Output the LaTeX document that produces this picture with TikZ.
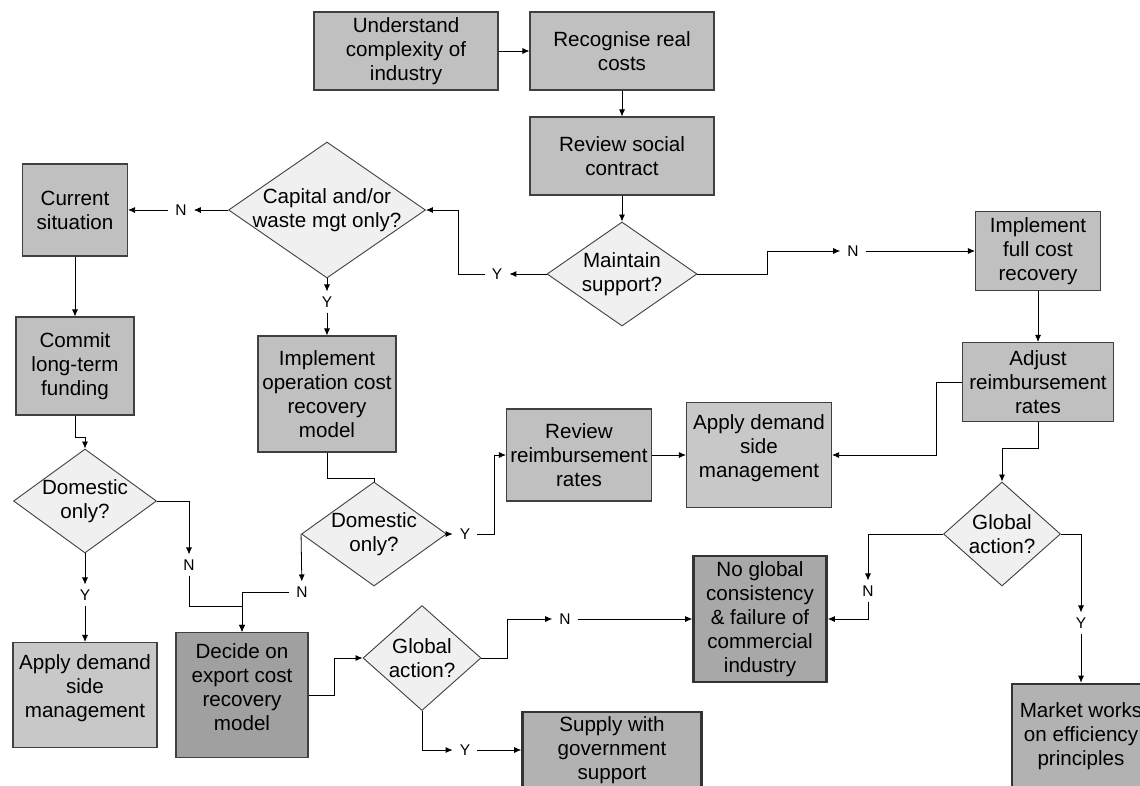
\documentclass[tikz,border=0pt]{standalone}
\usepackage{fontspec}
\setmainfont{Liberation Sans}
\usetikzlibrary{shapes.geometric,arrows.meta}

\definecolor{boxG}{RGB}{192,192,192}
\definecolor{boxH}{RGB}{200,200,200}
\definecolor{boxD}{RGB}{160,160,160}
\definecolor{boxE}{RGB}{168,168,168}
\definecolor{boxM}{RGB}{178,178,178}
\definecolor{rautG}{RGB}{240,240,240}
\definecolor{randG}{RGB}{64,64,64}

\tikzset{	Flow/.style={x=1pt,y=-1pt},
		box/.style={rectangle,draw=randG,line width=1.1pt,fill=boxG,align=center,
				inner sep=0pt,font=\fontsize{20.6}{24}\selectfont},
		boxHell/.style={box,fill=boxH},
		boxDunkel/.style={box,fill=boxD},
		boxEnde/.style={box,line width=2.6pt,draw=black!80},
		raute/.style={diamond,draw=randG,line width=0.9pt,fill=rautG,inner sep=0pt},
		frage/.style={raute,label={[align=center,inner sep=0pt,
				font=\fontsize{20.6}{24}\selectfont]center:#1}},
		marke/.style={inner xsep=7pt,inner ysep=5pt,font=\fontsize{15.5}{17}\selectfont},
		pfeil/.style={->,line width=0.8pt},
		linie/.style={line width=0.8pt}
				}

\begin{document}
\begin{tikzpicture}[>={Latex[length=7pt,width=6pt]}, Flow]

	\useasboundingbox (0,0) rectangle (1140,785);
	\clip (0,0) rectangle (1140,785);

	% kaesten oben
	\node[box, minimum width=184pt, minimum height=78pt] (verstehen) at (406,51) {Understand\\complexity of\\industry};
	\node[box, minimum width=184pt, minimum height=78pt] (kosten) at (622,51) {Recognise real\\costs};
	\node[box, minimum width=184pt, minimum height=78pt] (vertrag) at (622,156) {Review social\\contract};
	\node[frage={Maintain\\support?}, minimum width=150pt, minimum height=104pt] (halten) at (622,274) {};

	% linker zweig
	\node[frage={Capital and/or\\waste mgt only?}, minimum width=197pt, minimum height=136pt] (kapital) at (327,210) {};
	\node[box, minimum width=105pt, minimum height=92pt] (lage) at (75,210) {Current\\situation};
	\node[box, minimum width=118pt, minimum height=98pt] (finanz) at (75,366) {Commit\\long-term\\funding};
	\node[box, minimum width=138pt, minimum height=116pt] (betrieb) at (327,394) {Implement\\operation cost\\recovery\\model};
	\node[frage={Domestic\\only?}, minimum width=143pt, minimum height=104pt] (inlandA) at (85,501) {};
	\node[frage={Domestic\\only?}, minimum width=145pt, minimum height=104pt] (inlandB) at (374,534) {};
	\node[boxHell, minimum width=144pt, minimum height=105pt] (nachfrageA) at (85,695) {Apply demand\\side\\management\\[-6pt]\mbox{}};
	\node[boxDunkel, minimum width=132pt, minimum height=125pt] (export) at (242,695) {Decide on\\export cost\\recovery\\model\\[-8pt]\mbox{}};
	\node[frage={Global\\action?}, minimum width=118pt, minimum height=105pt] (globalA) at (422,658) {};
	\node[boxEnde, fill=boxM, minimum width=179pt, minimum height=76pt] (versorgung) at (612,750) {Supply with\\government\\support};

	% mitte und rechter zweig
	\node[box, minimum width=145pt, minimum height=92pt] (pruefen) at (579,455) {Review\\reimbursement\\rates};
	\node[boxHell, minimum width=145pt, minimum height=105pt] (nachfrageB) at (759,455) {Apply demand\\side\\management\\[-6pt]\mbox{}};
	\node[box, minimum width=125pt, minimum height=79pt] (vollkosten) at (1038,251) {Implement\\full cost\\recovery};
	\node[box, minimum width=151pt, minimum height=79pt] (anpassen) at (1038,382) {Adjust\\reimbursement\\rates};
	\node[frage={Global\\action?}, minimum width=117pt, minimum height=104pt] (globalB) at (1002,534) {};
	\node[boxEnde, fill=boxE, minimum width=133pt, minimum height=126pt] (keine) at (760,619) {No global\\consistency\\\& failure of\\commercial\\industry};
	\node[boxEnde, fill=boxM, minimum width=138pt, minimum height=104pt] (markt) at (1081,736) {Market works\\on efficiency\\principles};

	% Y/N marken
	\node[marke] (ja1) at (497,274) {Y};
	\node[marke] (nein1) at (853,251) {N};
	\node[marke] (nein2) at (181,210) {N};
	\node[marke] (ja2) at (327,302) {Y};
	\node[marke] (ja3) at (85,595) {Y};
	\node[marke] (nein3) at (189,565) {N};
	\node[marke] (nein4) at (302,592) {N};
	\node[marke] (ja4) at (465,534) {Y};
	\node[marke] (nein5) at (868,591) {N};
	\node[marke] (ja5) at (1081,623) {Y};
	\node[marke] (nein6) at (565,619) {N};
	\node[marke] (ja6) at (465,750) {Y};

	% verbindungen
	\draw[pfeil] (verstehen)--(kosten);
	\draw[pfeil] (kosten)--(vertrag);
	\draw[pfeil] (vertrag)--(halten);
	\draw[pfeil] (halten.west)--(ja1);
	\draw[pfeil] (ja1)--(458,274)|-(kapital.east);
	\draw[pfeil] (halten.east)--(767,274)|-(nein1);
	\draw[pfeil] (nein1)--(vollkosten);
	\draw[pfeil] (kapital.west)--(nein2);
	\draw[pfeil] (nein2)--(lage);
	\draw[pfeil] (kapital.south)--(ja2);
	\draw[pfeil] (ja2)--(betrieb);
	\draw[pfeil] (lage)--(finanz);
	\draw[pfeil] (finanz.south)--++(0,22)-|(inlandA.north);
	\draw[pfeil] (inlandA.south)--(ja3);
	\draw[pfeil] (ja3)--(nachfrageA);
	\draw[pfeil] (inlandA.east)-|(nein3);
	\draw[pfeil] (nein3)--(189,606)-|(export.north);
	\draw[linie] (betrieb.south)--++(0,26)-|(inlandB.north);
	\draw[pfeil] (inlandB.west)--(nein4);
	\draw[pfeil] (nein4)-|(export.north);
	\draw[pfeil] (inlandB.east)--(ja4);
	\draw[pfeil] (ja4)--(494,534)|-(pruefen.west);
	\draw[pfeil] (pruefen)--(nachfrageB);
	\draw[pfeil] (vollkosten)--(anpassen);
	\draw[pfeil] (anpassen.west)--++(-26,0)|-(nachfrageB.east);
	\draw[pfeil] (anpassen.south)--++(0,26)-|(globalB.north);
	\draw[pfeil] (globalB.west)-|(nein5);
	\draw[pfeil] (nein5)|-(keine.east);
	\draw[pfeil] (globalB.east)-|(ja5);
	\draw[pfeil] (ja5)--(markt);
	\draw[pfeil] (export.east)--++(26,0)|-(globalA.west);
	\draw[pfeil] (globalA.east)--++(26,0)|-(nein6);
	\draw[pfeil] (nein6)--(keine.west);
	\draw[pfeil] (globalA.south)|-(ja6);
	\draw[pfeil] (ja6)--(versorgung.west);
\end{tikzpicture}
\end{document}
